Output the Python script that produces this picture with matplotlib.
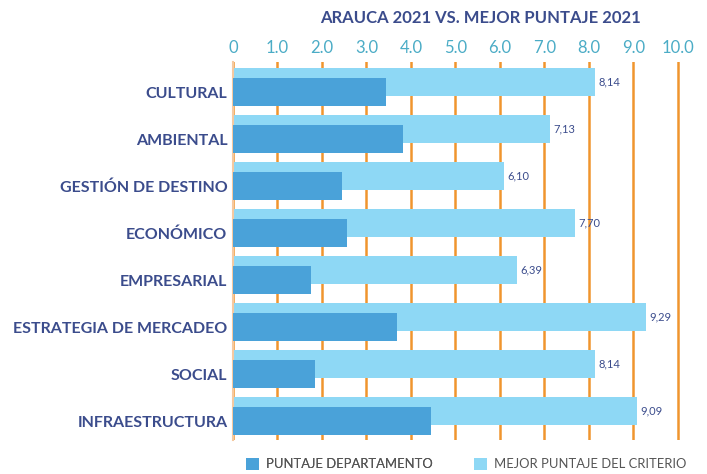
import matplotlib.pyplot as plt
import numpy as np

plt.rcParams['font.family'] = ['Lato', 'DejaVu Sans']

categorias = ['CULTURAL', 'AMBIENTAL', 'GESTIÓN DE DESTINO', 'ECONÓMICO',
              'EMPRESARIAL', 'ESTRATEGIA DE MERCADEO', 'SOCIAL', 'INFRAESTRUCTURA']
puntaje_depto = [3.45, 3.82, 2.45, 2.56, 1.75, 3.68, 1.84, 4.45]
mejor_puntaje = [8.14, 7.13, 6.10, 7.70, 6.39, 9.29, 8.14, 9.09]
ticks_x = [0, 1, 2, 3, 4, 5, 6, 7, 8, 9, 10]
ticks_lbl = ['0', '1.0', '2.0', '3.0', '4.0', '5.0', '6.0', '7.0', '8.0', '9.0', '10.0']

c_dark = '#4AA2D9'
c_light = '#8ED8F5'
c_grid = '#F0952E'
c_navy = '#3B4C8C'

fig = plt.figure(figsize=(7.07, 4.74), dpi=100)
ax = fig.add_axes([233/707, 1-440/474, 447/707, 378/474])

y = np.arange(len(categorias))
b_light = ax.barh(y - 0.21, mejor_puntaje, height=0.6, color=c_light, zorder=2)
b_dark = ax.barh(y, puntaje_depto, height=0.6, color=c_dark, zorder=3)

for yi, v in zip(y, mejor_puntaje):
    ax.text(v + 0.07, yi - 0.21, f'{v:.2f}'.replace('.', ','), va='center', ha='left',
            fontsize=8, color=c_navy, zorder=4)

ax.set_xlim(0, 10.05)
ax.set_ylim(7.4, -0.64)
ax.set_xticks(ticks_x)
ax.set_xticklabels(ticks_lbl)
ax.xaxis.tick_top()
ax.tick_params(axis='x', colors=c_grid, labelcolor='#4BACC6', labelsize=12,
               length=0, width=1.5, pad=4, bottom=False, top=True)
ax.set_yticks(y)
ax.set_yticklabels(categorias, fontweight='bold', fontsize=11.5, color=c_navy)
ax.tick_params(axis='y', length=0, pad=4)

ax.grid(axis='x', color=c_grid, linewidth=1.8, zorder=1)
for s in ['top', 'right', 'bottom']:
    ax.spines[s].set_visible(False)
ax.spines['left'].set_color('#F5C9A0')
ax.spines['left'].set_linewidth(1.5)

fig.text(480/707, 1-18/474, 'ARAUCA 2021 VS. MEJOR PUNTAJE 2021', ha='center', va='center',
         fontsize=12, fontweight='bold', color=c_navy)

leg_kw = dict(frameon=False, fontsize=9.4, labelcolor='#555555', handlelength=1.0,
              handleheight=1.0, handletextpad=0.5, borderpad=0, borderaxespad=0)
leg1 = fig.legend([b_dark], ['PUNTAJE DEPARTAMENTO'], loc='center left',
                  bbox_to_anchor=(246/707, 1-464/474), **leg_kw)
fig.add_artist(leg1)
fig.legend([b_light], ['MEJOR PUNTAJE DEL CRITERIO'], loc='center left',
           bbox_to_anchor=(474/707, 1-464/474), **leg_kw)

plt.savefig('out.png')
